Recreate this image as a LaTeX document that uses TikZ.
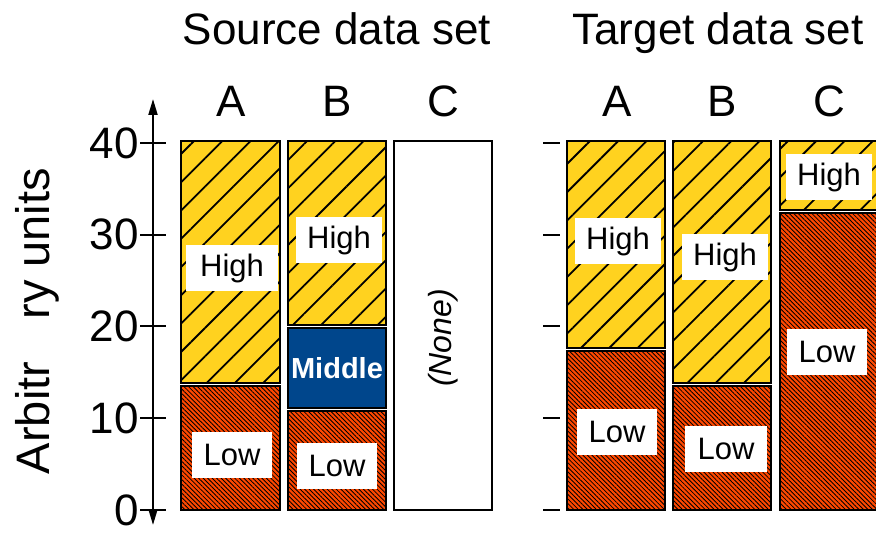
\documentclass[tikz,border=0pt]{standalone}
\usepackage{fontspec}
\setmainfont{Liberation Sans}
\usetikzlibrary{arrows.meta,patterns.meta}
\definecolor{hiyellow}{RGB}{255,210,31}
\definecolor{lored}{RGB}{255,72,0}
\definecolor{midblue}{RGB}{0,70,140}
\tikzset{
	edge/.style={line width=0.8pt},
	highbar/.style={fill=hiyellow,
		postaction={pattern={Lines[angle=45,distance=10pt,line width=0.9pt]}, pattern color=black},
		postaction={draw, edge}},
	lowbar/.style={fill=lored,
		postaction={pattern={Lines[angle=-45,distance=1.6pt,line width=0.42pt]}, pattern color=black},
		postaction={draw, edge}},
	midbar/.style={fill=midblue, draw, edge},
	nonebar/.style={fill=white, draw, edge},
	tag/.style={fill=white, minimum width=43pt, minimum height=23pt, inner sep=0pt,
		font=\fontsize{15.5}{18}\selectfont},
	big/.style={font=\fontsize{22}{26}\selectfont},
}
\begin{document}
\begin{tikzpicture}[x=0.5pt,y=-0.5pt]
	\useasboundingbox (0,0) rectangle (876,533);
	\clip (0,0) rectangle (876,533);

	% axis
	\coordinate (atop) at (153,99);
	\coordinate (abot) at (153,525);
	\draw[{Triangle[length=8pt,width=4.5pt]}-{Triangle[length=8pt,width=4.5pt]}, line width=1pt] (abot) -- (atop);
	\foreach \v in {0,10,20,30,40}
	    {
		\pgfmathsetmacro{\yy}{510-9.175*\v}%
		\draw[line width=1pt] (140,\yy) -- (166,\yy);
		\draw[line width=1pt] (543,\yy) -- (560,\yy);
		\node[big, anchor=east, inner sep=0pt] (tick\v) at (139,\yy) {\v};
	    }
	\node[font=\fontsize{23.5}{28}\selectfont, rotate=90] (ylabel) at (37,321) {Arbitr\hspace{0.9em}ry units};

	% titles and columns
	\node[big, anchor=base] (src) at (337,45) {Source data set};
	\node[big, anchor=base] (tgt) at (718,45) {Target data set};
	\foreach \x/\l [count=\i] in {231/A,337/B,443/C,617/A,722/B,829/C}
	    {
		\node[big, anchor=base] (col\i) at (\x,117) {\l};
	    }

	% source bars
	\path[highbar] (181,141) rectangle (280,383);
	\path[lowbar] (181,386) rectangle (280,510);
	\path[highbar] (288,141) rectangle (386,325);
	\path[midbar] (288,328) rectangle (386,408);
	\path[lowbar] (288,411) rectangle (386,510);
	\path[nonebar] (394,141) rectangle (492,510);

	% target bars
	\path[highbar] (567,141) rectangle (665,348);
	\path[lowbar] (567,351) rectangle (665,510);
	\path[highbar] (673,141) rectangle (771,383);
	\path[lowbar] (673,386) rectangle (771,510);
	\path[highbar] (780,141) rectangle (884,210);
	\path[lowbar] (780,213) rectangle (884,510);

	% labels
	\node[tag, minimum width=46pt] (sahigh) at (232,268) {High};
	\node[tag, minimum width=40pt] (salow) at (232,455) {Low};
	\node[tag] (sbhigh) at (339,240) {High};
	\node[text=white, font=\bfseries\fontsize{14.5}{17}\selectfont] (sbmid) at (337,368) {Middle};
	\node[tag, minimum width=40pt] (sblow) at (337,466) {Low};
	\node[rotate=90, font=\itshape\fontsize{16}{19}\selectfont] (scnone) at (443,338) {(None)};

	\node[tag] (tahigh) at (618,241) {High};
	\node[tag, minimum width=40pt] (talow) at (617,432) {Low};
	\node[tag] (tbhigh) at (725,257) {High};
	\node[tag, minimum width=41pt] (tblow) at (726,449) {Low};
	\node[tag] (tchigh) at (829,177) {High};
	\node[tag, minimum width=40pt] (tclow) at (827,352) {Low};
    \end{tikzpicture}
\end{document}
